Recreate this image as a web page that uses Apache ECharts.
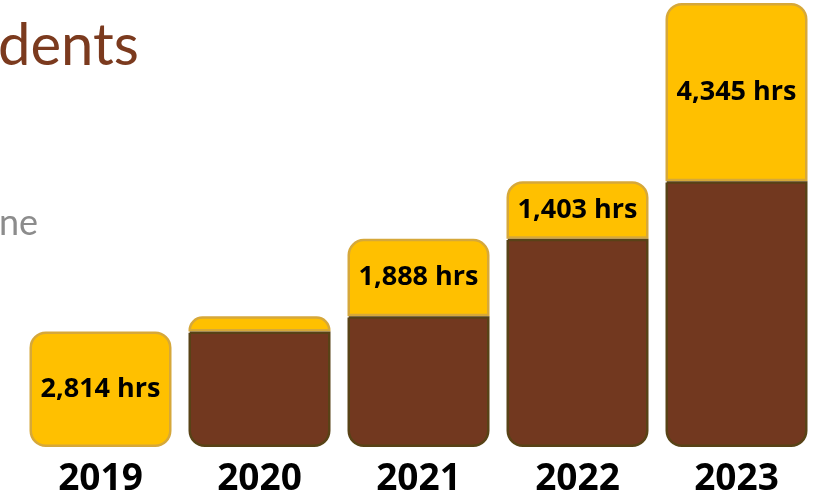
<!DOCTYPE html>
<html>
<head>
<meta charset="utf-8">
<script src="https://cdn.jsdelivr.net/npm/echarts@6/dist/echarts.min.js"></script>
<style>
  html, body { margin: 0; padding: 0; background: #ffffff; }
  #chart { width: 813px; height: 495px; }
</style>
</head>
<body>
<div id="chart"></div>
<script>
// Volunteer hours by year: hours carried over from earlier years (brown)
// with the hours added in that year stacked on top (gold).
const years = ['2019', '2020', '2021', '2022', '2023'];
const priorHours = [0, 2814, 3184, 5072, 6475];
const newHours = [2814, 370, 1888, 1403, 4345];
const showHoursLabel = [true, false, true, true, true];

const titleText = 'dents';
const subText = 'ne';

const GOLD = '#FFC000';
const GOLD_EDGE = '#D6A83A';
const BROWN = '#72381F';
const BROWN_EDGE = '#584216';
const RADIUS = 15;

const chart = echarts.init(document.getElementById('chart'), null, { renderer: 'canvas' });

const fmtHours = v => v.toLocaleString('en-US') + ' hrs';

chart.setOption({
  animation: false,
  backgroundColor: '#ffffff',
  grid: {
    left: 21, right: -3, top: 3, bottom: 48,
    containLabel: false,
    outerBoundsMode: 'none'
  },
  xAxis: {
    type: 'category',
    data: years,
    axisLine: { show: false },
    axisTick: { show: false },
    axisLabel: {
      color: '#000000',
      fontFamily: 'Open Sans',
      fontWeight: 'bold',
      fontSize: 37,
      margin: 14
    }
  },
  yAxis: {
    type: 'value',
    min: 0,
    max: 'dataMax',
    show: false,
    splitLine: { show: false }
  },
  graphic: [
    {
      type: 'text',
      left: -2,
      top: 17,
      style: {
        text: titleText,
        fontFamily: 'Lato',
        fontSize: 58,
        fill: '#7B3A1E'
      }
    },
    {
      type: 'text',
      left: -1,
      top: 205,
      style: {
        text: subText,
        fontFamily: 'Lato',
        fontSize: 36,
        fill: '#8C8C8C'
      }
    }
  ],
  series: [
    {
      name: 'Earlier years',
      type: 'bar',
      stack: 'hours',
      barWidth: 142,
      z: 3,
      data: priorHours.map(v => (v > 0 ? v : '-')),
      itemStyle: {
        color: BROWN,
        borderColor: BROWN_EDGE,
        borderWidth: 2.5,
        borderRadius: [0, 0, RADIUS, RADIUS]
      }
    },
    {
      name: 'Hours this year',
      type: 'bar',
      stack: 'hours',
      barWidth: 142,
      z: 2,
      data: newHours.map((v, i) => ({
        value: v,
        label: { show: showHoursLabel[i] },
        itemStyle: {
          borderRadius: priorHours[i] > 0 ? [RADIUS, RADIUS, 0, 0] : RADIUS
        }
      })),
      itemStyle: {
        color: GOLD,
        borderColor: GOLD_EDGE,
        borderWidth: 2.5
      },
      label: {
        position: 'inside',
        formatter: p => fmtHours(p.value),
        color: '#000000',
        fontFamily: 'Open Sans',
        fontWeight: 'bold',
        fontSize: 27
      }
    }
  ]
});
</script>
</body>
</html>
